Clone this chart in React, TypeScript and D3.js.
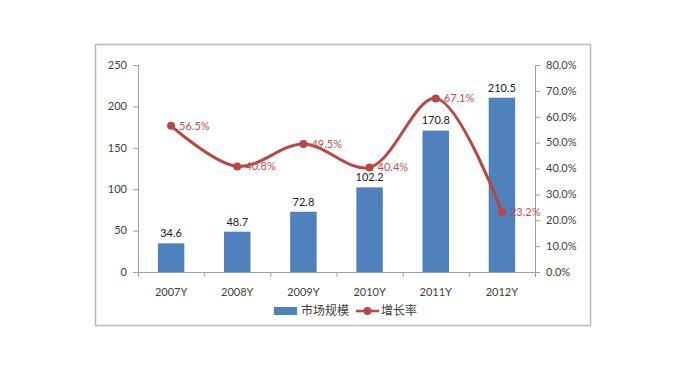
import React from "react";
import * as d3 from "d3";

const categories = ["2007Y", "2008Y", "2009Y", "2010Y", "2011Y", "2012Y"];
const marketSize = [34.6, 48.7, 72.8, 102.2, 170.8, 210.5];
const growthRate = [56.5, 40.8, 49.5, 40.4, 67.1, 23.2];
const leftTicks = [0, 50, 100, 150, 200, 250];
const rightTicks = [0, 10, 20, 30, 40, 50, 60, 70, 80];
const seriesNames = ["市场规模", "增长率"];

const W = 687, H = 370;
const plotL = 138, plotR = 535, plotT = 65, plotB = 272;
const font = "Lato, 'Noto Sans CJK SC', sans-serif";
const barColor = "#4F81BD";
const lineColor = "#B94744";
const labelRed = "#C0504D";
const axisColor = "#A0A0A0";

export default function App() {
  const x = d3.scaleBand<string>().domain(categories).range([plotL, plotR]).paddingInner(0).paddingOuter(0);
  const yL = d3.scaleLinear().domain([0, 250]).range([plotB, plotT]);
  const yR = d3.scaleLinear().domain([0, 80]).range([plotB, plotT]);
  const bw = x.bandwidth() * 0.4;
  const cx = (c: string) => (x(c) as number) + x.bandwidth() / 2;
  const line = d3
    .line<number>()
    .x((_, i) => cx(categories[i]))
    .y((d) => yR(d))
    .curve(d3.curveCatmullRom.alpha(0.5));

  return (
    <svg width={W} height={H} style={{ position: "absolute", left: 0, top: 0, background: "#fff" }} fontFamily={font}>
      <rect x={0} y={0} width={W} height={H} fill="#fff" />
      <rect x={95.5} y={44.5} width={495} height={281} fill="#fff" stroke="#B8B8B8" strokeWidth={1.5} />
      {/* left axis */}
      <line x1={plotL + 0.5} x2={plotL + 0.5} y1={plotT} y2={plotB} stroke={axisColor} />
      {leftTicks.map((t) => (
        <g key={"l" + t}>
          <line x1={plotL - 5} x2={plotL} y1={yL(t) + 0.5} y2={yL(t) + 0.5} stroke={axisColor} />
          <text x={plotL - 11} y={yL(t)} dy="0.35em" textAnchor="end" fontSize={11} fill="#404040">
            {t}
          </text>
        </g>
      ))}
      {/* right axis */}
      <line x1={plotR + 0.5} x2={plotR + 0.5} y1={plotT} y2={plotB} stroke={axisColor} />
      {rightTicks.map((t) => (
        <g key={"r" + t}>
          <line x1={plotR} x2={plotR + 5} y1={yR(t) + 0.5} y2={yR(t) + 0.5} stroke={axisColor} />
          <text x={plotR + 11} y={yR(t)} dy="0.35em" textAnchor="start" fontSize={11} fill="#404040">
            {t.toFixed(1) + "%"}
          </text>
        </g>
      ))}
      {/* bottom axis */}
      <line x1={plotL} x2={plotR} y1={plotB + 0.5} y2={plotB + 0.5} stroke={axisColor} />
      {categories.map((c, i) => (
        <line key={"t" + c} x1={(x(c) as number) + 0.5} x2={(x(c) as number) + 0.5} y1={plotB} y2={plotB + 5} stroke={axisColor} />
      ))}
      <line x1={plotR + 0.5} x2={plotR + 0.5} y1={plotB} y2={plotB + 5} stroke={axisColor} />
      {categories.map((c) => (
        <text key={"x" + c} x={cx(c)} y={plotB + 20} dy="0.35em" textAnchor="middle" fontSize={11} fill="#404040">
          {c}
        </text>
      ))}
      {/* bars */}
      {categories.map((c, i) => (
        <g key={"b" + c}>
          <rect x={cx(c) - bw / 2} y={yL(marketSize[i])} width={bw} height={plotB - yL(marketSize[i])} fill={barColor} />
          <text x={cx(c)} y={yL(marketSize[i]) - 10} dy="0.35em" textAnchor="middle" fontSize={11} fill="#202020">
            {marketSize[i].toFixed(1)}
          </text>
        </g>
      ))}
      {/* line */}
      <path d={line(growthRate) as string} fill="none" stroke={lineColor} strokeWidth={3} />
      {growthRate.map((v, i) => (
        <g key={"p" + i}>
          <circle cx={cx(categories[i])} cy={yR(v)} r={4} fill={lineColor} />
          <text x={cx(categories[i]) + 8} y={yR(v)} dy="0.35em" textAnchor="start" fontSize={11} fill={labelRed}>
            {v.toFixed(1) + "%"}
          </text>
        </g>
      ))}
      {/* legend */}
      <rect x={274} y={307} width={23} height={8} fill={barColor} />
      <text x={301} y={311} dy="0.35em" fontSize={12} fill="#404040">
        {seriesNames[0]}
      </text>
      <line x1={356} x2={379} y1={311} y2={311} stroke={lineColor} strokeWidth={2.5} />
      <circle cx={367.5} cy={311} r={4} fill={lineColor} />
      <text x={381} y={311} dy="0.35em" fontSize={12} fill="#404040">
        {seriesNames[1]}
      </text>
    </svg>
  );
}
